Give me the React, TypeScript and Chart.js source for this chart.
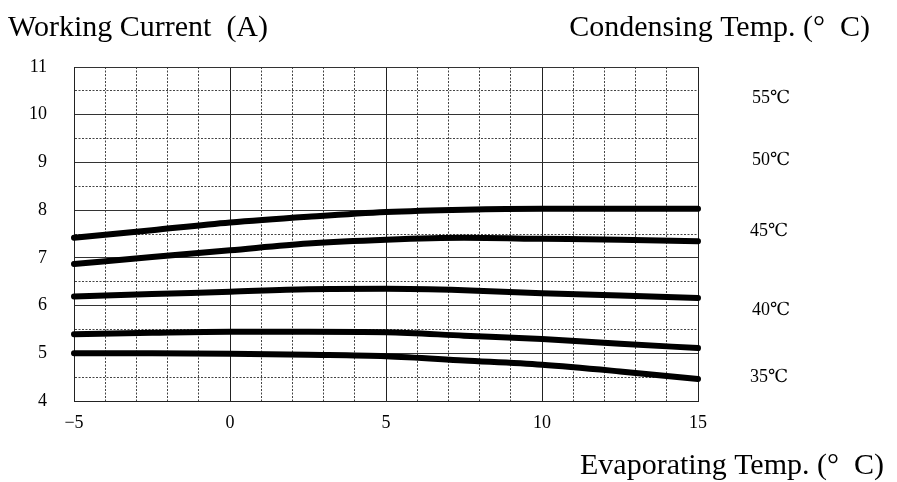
import React, { useEffect, useRef } from "react";
import { Chart, registerables } from "chart.js";

Chart.register(...registerables);

// Evaporating temperature (°C)
const evapTemps = [-5, -2.5, 0, 2.5, 5, 7.5, 10, 12.5, 15];
// Working current (A) per condensing temperature
const current55 = [7.42, 7.58, 7.74, 7.86, 7.96, 8.01, 8.03, 8.03, 8.03];
const current50 = [6.87, 7.02, 7.16, 7.3, 7.38, 7.42, 7.4, 7.38, 7.35];
const current45 = [6.19, 6.24, 6.29, 6.34, 6.35, 6.32, 6.26, 6.21, 6.16];
const current40 = [5.4, 5.43, 5.45, 5.45, 5.44, 5.37, 5.3, 5.2, 5.11];
const current35 = [5.0, 5.0, 4.99, 4.97, 4.94, 4.85, 4.76, 4.62, 4.46];
const seriesNames = ["55℃", "50℃", "45℃", "40℃", "35℃"];
const xTickValues = [-5, 0, 5, 10, 15];
const xTickLabels = ["\u22125", "0", "5", "10", "15"];
const yTickValues = [4, 5, 6, 7, 8, 9, 10, 11];
const yTickLabels = ["4", "5", "6", "7", "8", "9", "10", "11"];

const SERIF = "'Liberation Serif', 'Times New Roman', 'DejaVu Serif', serif";

export default function App() {
  const ref = useRef<HTMLCanvasElement | null>(null);

  useEffect(() => {
    document.body.style.margin = "0";
    const canvas = ref.current;
    if (!canvas) return;
    const series = [current55, current50, current45, current40, current35];

    const textPlugin = {
      id: "texts",
      afterDraw(chart: any) {
        const ctx = chart.ctx;
        const yScale = chart.scales.y;
        ctx.save();
        ctx.fillStyle = "#000";
        ctx.textBaseline = "middle";
        ctx.font = `30px ${SERIF}`;
        ctx.textAlign = "left";
        ctx.fillText("Working Current  (A)", 8, 28);
        ctx.textAlign = "right";
        ctx.fillText("Condensing Temp. (°  C)", 870, 28);
        ctx.fillText("Evaporating Temp. (°  C)", 884, 466);
        // condensing temperature labels
        const labelY = [10.35, 9.05, 7.55, 5.9, 4.5];
        const labelX = [752, 752, 750, 752, 750];
        ctx.font = `18px ${SERIF}`;
        ctx.textAlign = "left";
        seriesNames.forEach((n, i) => {
          ctx.fillText(n, labelX[i], yScale.getPixelForValue(labelY[i]));
        });
        ctx.restore();
      },
    };

    const chart = new Chart(canvas, {
      type: "line",
      data: {
        labels: evapTemps,
        datasets: series.map((d, i) => ({
          label: seriesNames[i],
          data: evapTemps.map((x, j) => ({ x, y: d[j] })),
          borderColor: "#000",
          backgroundColor: "#000",
          borderWidth: 6,
          borderCapStyle: "round" as const,
          pointRadius: 0,
          cubicInterpolationMode: "monotone" as const,
          clip: false as any,
        })),
      },
      options: {
        responsive: false,
        animation: false,
        layout: { padding: { left: 0, right: 199, top: 67, bottom: 41 } },
        plugins: { legend: { display: false }, tooltip: { enabled: false } },
        scales: {
          x: {
            type: "linear",
            min: -5,
            max: 15,
            afterFit: (s: any) => {
              s.height = 40;
            },
            afterBuildTicks: (s: any) => {
              const t: any[] = [];
              for (let v = -5; v <= 15; v += 1) t.push({ value: v });
              s.ticks = t;
            },
            ticks: {
              autoSkip: false,
              maxRotation: 0,
              padding: 11,
              color: "#000",
              font: { family: SERIF, size: 18 },
              callback: (v: any) => {
                const i = xTickValues.indexOf(Number(v));
                return i >= 0 ? xTickLabels[i] : "";
              },
            },
            grid: {
              drawTicks: false,
              color: (c: any) => (c.tick && c.tick.value % 5 === 0 ? "#222" : "#444"),
              lineWidth: 1,
            },
            border: {
              display: true,
              color: "#222",
              width: 1,
              dash: (c: any) => (c.tick && c.tick.value % 5 !== 0 ? [2, 1.5] : []),
            } as any,
          },
          y: {
            type: "linear",
            min: 4,
            max: 11,
            afterFit: (s: any) => {
              s.width = 74;
            },
            afterBuildTicks: (s: any) => {
              const t: any[] = [];
              for (let v = 4; v <= 11.001; v += 0.5) t.push({ value: Math.round(v * 2) / 2 });
              s.ticks = t;
            },
            ticks: {
              autoSkip: false,
              padding: 27,
              color: "#000",
              font: { family: SERIF, size: 18 },
              callback: (v: any) => {
                const i = yTickValues.indexOf(Number(v));
                return i >= 0 ? yTickLabels[i] : "";
              },
            },
            grid: {
              drawTicks: false,
              color: (c: any) => (c.tick && Number.isInteger(c.tick.value) ? "#333" : "#444"),
              lineWidth: 1,
            },
            border: {
              display: true,
              color: "#222",
              width: 1,
              dash: (c: any) => (c.tick && !Number.isInteger(c.tick.value) ? [2, 1.5] : []),
            } as any,
          },
        },
      },
      plugins: [textPlugin],
    });
    return () => chart.destroy();
  }, []);

  return (
    <div style={{ width: 897, height: 482, background: "#fff" }}>
      <canvas ref={ref} width={897} height={482} style={{ display: "block" }} />
    </div>
  );
}
